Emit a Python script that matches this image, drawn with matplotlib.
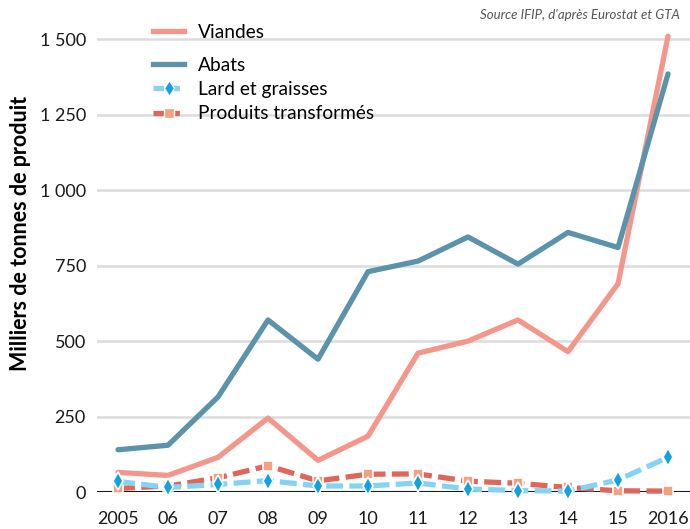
import numpy as np
import matplotlib.pyplot as plt
from matplotlib.lines import Line2D

plt.rcParams['font.family'] = ['Lato', 'DejaVu Sans']

years = [2005, 2006, 2007, 2008, 2009, 2010, 2011, 2012, 2013, 2014, 2015, 2016]
year_labels = ['2005', '06', '07', '08', '09', '10', '11', '12', '13', '14', '15', '2016']

viandes = [65, 55, 115, 245, 105, 185, 460, 500, 570, 465, 690, 1510]
abats = [140, 155, 315, 570, 440, 730, 765, 845, 755, 860, 810, 1385]
lard = [35, 15, 25, 38, 20, 20, 30, 10, 5, 3, 40, 115]
produits = [12, 20, 47, 87, 37, 59, 60, 36, 29, 15, 4, 3]

yticks = [0, 250, 500, 750, 1000, 1250, 1500]
ytick_labels = ['0', '250', '500', '750', '1 000', '1 250', '1 500']

c_viandes = '#f4968a'
c_abats = '#5b93ab'
c_lard = '#85d3f2'
c_lard_m = '#12a2e2'
c_prod = '#e0665a'
c_prod_m = '#f5a07e'

fig = plt.figure(figsize=(6.9, 5.29), dpi=100)
ax = fig.add_axes([0.1406, 0.0699, 0.8594, 0.913])

lw = 3.8
ax.plot(years, produits, color=c_prod, lw=lw, ls=(0, (3.2, 1.2)), solid_capstyle='round',
        marker='s', ms=7.5, mfc=c_prod_m, mec='white', mew=1.2, zorder=3, clip_on=False)
ax.plot(years, lard, color=c_lard, lw=lw, ls=(0, (3.2, 1.2)),
        marker='d', ms=9, mfc=c_lard_m, mec='white', mew=1.2, zorder=4, clip_on=False)
ax.plot(years, viandes, color=c_viandes, lw=lw, solid_capstyle='round', solid_joinstyle='round', zorder=2)
ax.plot(years, abats, color=c_abats, lw=lw, solid_capstyle='round', solid_joinstyle='round', zorder=2)

ax.set_xlim(2004.58, 2016.44)
ax.set_ylim(0, 1600)
ax.set_yticks(yticks)
ax.set_yticklabels(ytick_labels)
ax.set_xticks(years)
ax.set_xticklabels(year_labels)
ax.grid(axis='y', color='#dcdcdc', lw=1.8)
ax.set_axisbelow(True)
for s in ax.spines.values():
    s.set_visible(False)
ax.axhline(0, color='#1a1a1a', lw=2.2, zorder=1)
ax.tick_params(axis='both', length=0, labelsize=13, colors='#1a1a1a')
ax.tick_params(axis='y', pad=8)
ax.tick_params(axis='x', pad=14)
ax.set_ylabel('Milliers de tonnes de produit', fontsize=15.5, fontweight='bold')
ax.yaxis.set_label_coords(-0.112, 0.535)

legend_kw = dict(frameon=False, fontsize=13.8, handlelength=1.6, handletextpad=0.75,
                 labelspacing=0.38, borderpad=0, borderaxespad=0)
h1 = [Line2D([], [], color=c_viandes, lw=lw)]
leg1 = ax.legend(h1, ['Viandes'], loc='upper left', bbox_to_anchor=(0.095, 0.969), **legend_kw)
ax.add_artist(leg1)
h2 = [
    Line2D([], [], color=c_abats, lw=lw),
    Line2D([], [], color=c_lard, lw=lw, ls=(0, (2, 1)), marker='d', ms=8, mfc=c_lard_m, mec='white'),
    Line2D([], [], color=c_prod, lw=lw, ls=(0, (2, 1)), marker='s', ms=7, mfc=c_prod_m, mec='white'),
]
ax.legend(h2, ['Abats', 'Lard et graisses', 'Produits transformés'],
          loc='upper left', bbox_to_anchor=(0.095, 0.901), **legend_kw)

fig.text(0.985, 0.972, "Source IFIP, d'après Eurostat et GTA", ha='right', va='center',
         fontsize=9.5, style='italic', color='#555555')

fig.savefig('out.png', dpi=100)
